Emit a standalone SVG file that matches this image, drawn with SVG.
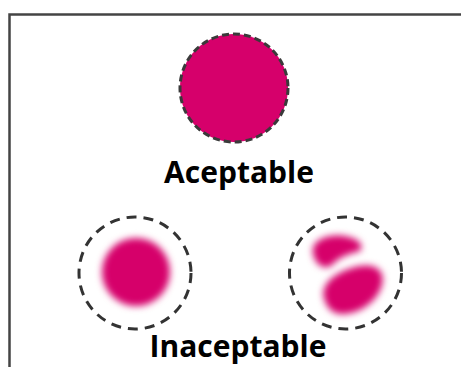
<svg xmlns="http://www.w3.org/2000/svg" width="461" height="367" viewBox="0 0 461 367">
<defs>
<style>
.lbl{font-family:"Open Sans","Liberation Sans",sans-serif;font-weight:700;font-size:30px;fill:#000;text-anchor:middle}
.ring{fill:none;stroke:#333;stroke-width:3;stroke-dasharray:10 7}
.mag{fill:#d6006b}
</style>
<filter id="blur" x="-50%" y="-50%" width="200%" height="200%"><feGaussianBlur stdDeviation="3.5"/></filter>
</defs>
<rect width="461" height="367" fill="#fff"/>
<g id="frame"><path d="M9.5 367 V14.5 H461" fill="none" stroke="#444" stroke-width="2.5"/></g>
<g id="acceptable">
<circle cx="234" cy="88" r="54" class="mag" stroke="#3a3a3a" stroke-width="3" stroke-dasharray="7 4"/>
<text x="239" y="183" class="lbl">Aceptable</text>
</g>
<g id="blurred">
<circle cx="135" cy="273" r="56" class="ring"/>
<circle cx="136" cy="272" r="34" class="mag" filter="url(#blur)"/>
</g>
<g id="split">
<circle cx="345.5" cy="273" r="56" class="ring"/>
<g filter="url(#blur)">
<path class="mag" d="M313 253 C311 240 328 234 344 236 C357 238 365 244 360 251 C352 253 340 256 333 264 C326 271 315 266 313 253 Z"/>
<path class="mag" d="M324 298 C320 283 338 270 360 266 C377 263 387 272 381 288 C374 305 356 315 340 314 C331 313 326 306 324 298 Z"/>
</g>
</g>
<g id="unacceptable"><text x="238" y="357" class="lbl">Inaceptable</text></g>
</svg>
